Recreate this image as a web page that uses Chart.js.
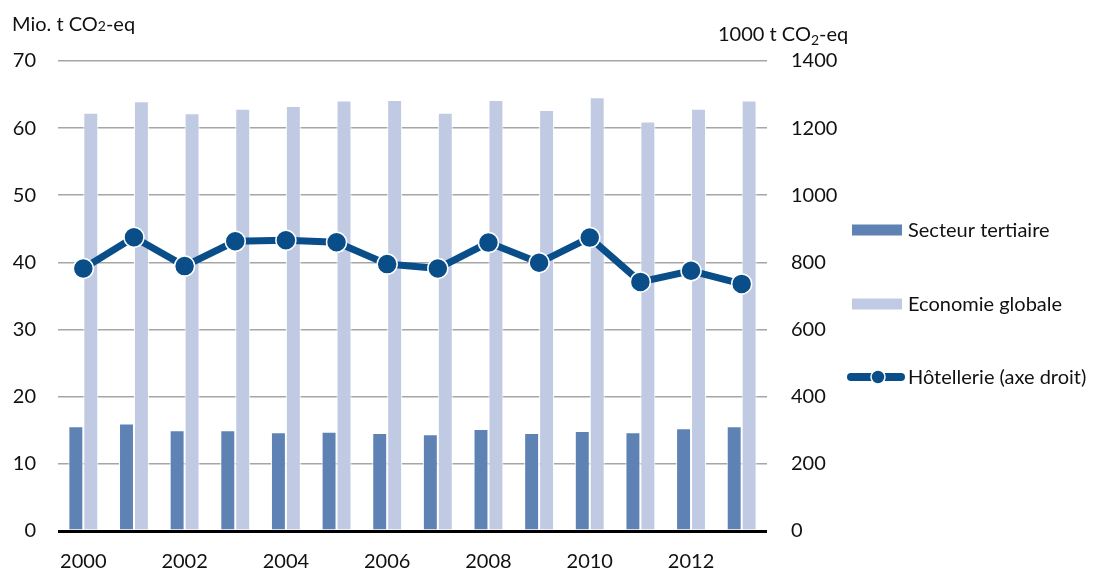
<!DOCTYPE html>
<html>
<head>
<meta charset="utf-8">
<script src="https://cdn.jsdelivr.net/npm/chart.js@4.4.1/dist/chart.umd.min.js"></script>
<style>
  html, body { margin: 0; padding: 0; background: #ffffff; }
  #wrap { width: 1115px; height: 572px; }
</style>
</head>
<body>
<div id="wrap"><canvas id="chart" width="1115" height="572"></canvas></div>
<script>
// Émissions de gaz à effet de serre, 2000–2013
const years = ['2000', '2001', '2002', '2003', '2004', '2005', '2006',
               '2007', '2008', '2009', '2010', '2011', '2012', '2013'];
// Mio. t CO2-eq (axe gauche)
const secteurTertiaire = [15.6, 16.0, 15.0, 15.0, 14.7, 14.8, 14.6, 14.4, 15.2, 14.6, 14.9, 14.7, 15.3, 15.6];
const economieGlobale  = [62.3, 64.0, 62.2, 62.9, 63.3, 64.1, 64.2, 62.3, 64.2, 62.7, 64.6, 61.0, 62.9, 64.1];
// 1000 t CO2-eq (axe droit)
const hotellerie = [782, 875, 789, 863, 866, 860, 795, 782, 859, 799, 874, 742, 775, 736];

const seriesNames = ['Secteur tertiaire', 'Economie globale', 'Hôtellerie (axe droit)'];
const leftTicks = { min: 0, max: 70, step: 10 };
const rightTicks = { min: 0, max: 1400, step: 200 };

const COL_DARK = '#5e82b3';
const COL_LIGHT = '#c0cbe3';
const COL_LINE = '#0a4e89';
const TEXT = '#111111';
const FONT = 'Lato';
const FS = 20;

// Plot area: x 58 → 767, right axis labels in a band after it
const PLOT_RIGHT = 767;
const RIGHT_AXIS_W = 80;

// Axis titles with the small "2" of CO2
const axisTitles = {
  id: 'axisTitles',
  afterDraw(chart) {
    const ctx = chart.ctx;
    ctx.save();
    ctx.fillStyle = TEXT;
    ctx.textBaseline = 'alphabetic';
    ctx.textAlign = 'left';
    // left title, "2" kept on the baseline
    let x = 12, y = 31;
    ctx.font = FS + 'px ' + FONT;
    ctx.fillText('Mio. t CO', x, y); x += ctx.measureText('Mio. t CO').width;
    ctx.font = '14px ' + FONT;
    ctx.fillText('2', x, y); x += ctx.measureText('2').width;
    ctx.font = FS + 'px ' + FONT;
    ctx.fillText('-eq', x, y);
    // right title, "2" as subscript
    x = 718; y = 41;
    ctx.fillText('1000 t CO', x, y); x += ctx.measureText('1000 t CO').width;
    ctx.font = '14px ' + FONT;
    ctx.fillText('2', x, y + 4); x += ctx.measureText('2').width;
    ctx.font = FS + 'px ' + FONT;
    ctx.fillText('-eq', x, y);
    ctx.restore();
  }
};

// Legend column to the right of the axis, one row per dataset
const sideLegend = {
  id: 'sideLegend',
  afterDraw(chart) {
    const ctx = chart.ctx;
    const rows = [237, 311, 384];
    ctx.save();
    chart.data.datasets.forEach((ds, i) => {
      const base = rows[i];
      const cy = base - 7;
      if (ds.type === 'bar') {
        ctx.fillStyle = ds.backgroundColor;
        ctx.fillRect(852, cy - 5.5, 50, 11);
      } else {
        ctx.strokeStyle = ds.borderColor;
        ctx.lineWidth = 8;
        ctx.lineCap = 'round';
        ctx.beginPath(); ctx.moveTo(851, cy); ctx.lineTo(901, cy); ctx.stroke();
        ctx.beginPath(); ctx.arc(878, cy, 7, 0, Math.PI * 2);
        ctx.fillStyle = ds.pointBackgroundColor; ctx.fill();
        ctx.lineWidth = 1.5; ctx.strokeStyle = ds.pointBorderColor; ctx.stroke();
      }
      ctx.fillStyle = TEXT;
      ctx.font = FS + 'px ' + FONT;
      ctx.textAlign = 'left';
      ctx.textBaseline = 'alphabetic';
      ctx.fillText(ds.label, 908, base);
    });
    ctx.restore();
  }
};

const barCommon = {
  type: 'bar',
  yAxisID: 'y',
  borderColor: '#ffffff',
  borderWidth: 1,
  borderSkipped: 'start',
  categoryPercentage: 0.59,
  barPercentage: 1.0,
  order: 2
};

new Chart(document.getElementById('chart'), {
  data: {
    labels: years,
    datasets: [
      Object.assign({}, barCommon, { label: seriesNames[0], data: secteurTertiaire, backgroundColor: COL_DARK }),
      Object.assign({}, barCommon, { label: seriesNames[1], data: economieGlobale, backgroundColor: COL_LIGHT }),
      {
        type: 'line',
        label: seriesNames[2],
        data: hotellerie,
        yAxisID: 'y1',
        borderColor: COL_LINE,
        backgroundColor: COL_LINE,
        borderWidth: 7,
        tension: 0,
        pointRadius: 10,
        pointHoverRadius: 10,
        pointBackgroundColor: COL_LINE,
        pointBorderColor: '#ffffff',
        pointBorderWidth: 1.5,
        order: 0
      }
    ]
  },
  options: {
    responsive: false,
    animation: false,
    devicePixelRatio: 1,
    layout: { padding: { top: 61, left: 0, bottom: 0, right: 1115 - PLOT_RIGHT - RIGHT_AXIS_W } },
    scales: {
      x: {
        grid: { display: false },
        border: { display: false },
        ticks: {
          autoSkip: false,
          maxRotation: 0,
          padding: 11,
          color: TEXT,
          font: { family: FONT, size: FS },
          callback: function (value, index) { return index % 2 === 0 ? this.getLabelForValue(value) : ''; }
        },
        afterFit(s) { s.height = 41; }
      },
      y: {
        position: 'left',
        min: leftTicks.min,
        max: leftTicks.max,
        border: { display: false },
        grid: {
          drawTicks: false,
          color: c => c.tick.value === 0 ? '#000000' : '#a6a6a6',
          lineWidth: c => c.tick.value === 0 ? 3 : 1.6
        },
        ticks: {
          stepSize: leftTicks.step,
          padding: 22,
          color: TEXT,
          font: { family: FONT, size: FS },
          callback: v => String(v)
        },
        afterFit(s) { s.width = 58; }
      },
      y1: {
        position: 'right',
        min: rightTicks.min,
        max: rightTicks.max,
        border: { display: false },
        grid: { display: false, drawTicks: false },
        ticks: {
          stepSize: rightTicks.step,
          padding: 24,
          color: TEXT,
          font: { family: FONT, size: FS },
          callback: v => String(v)
        },
        afterFit(s) { s.width = RIGHT_AXIS_W; }
      }
    },
    plugins: {
      tooltip: { enabled: false },
      legend: { display: false }
    }
  },
  plugins: [axisTitles, sideLegend]
});
</script>
</body>
</html>
